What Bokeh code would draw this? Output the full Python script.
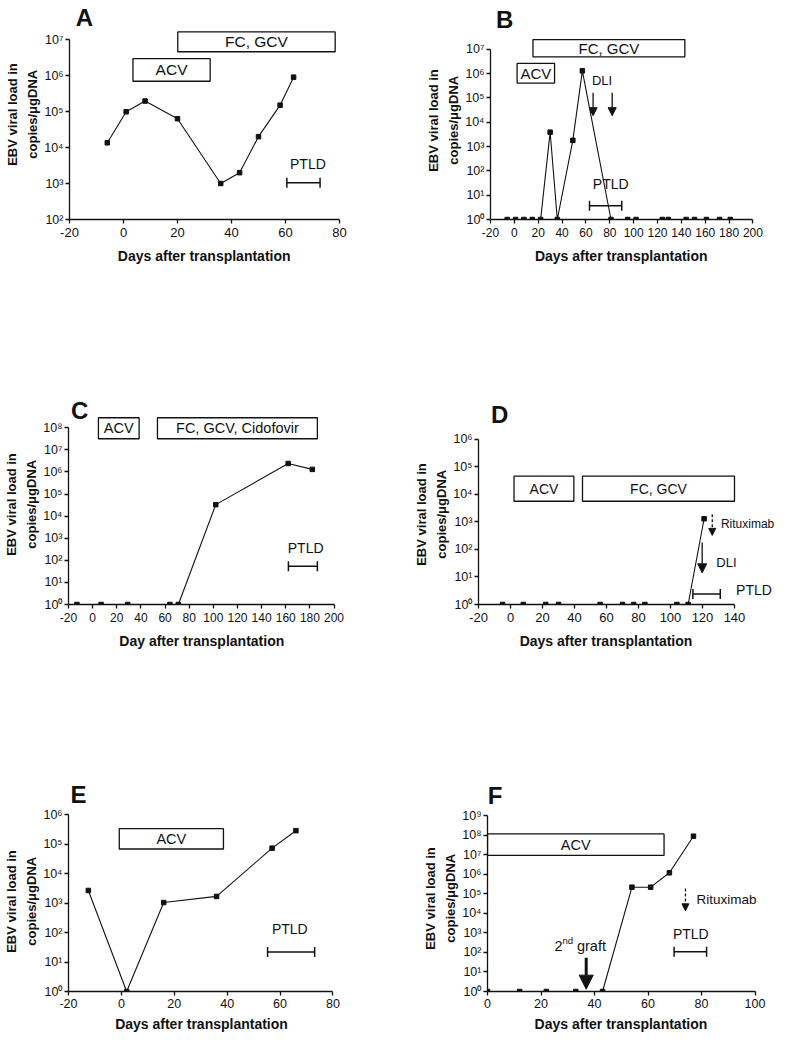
import math
from bokeh.plotting import figure
from bokeh.models import Range1d, FixedTicker, CustomJSTickFormatter, Arrow, NormalHead, Title
from bokeh.layouts import row, column
from bokeh.embed import file_html
from bokeh.resources import INLINE
from bokeh.core.properties import value

FONT = "Liberation Sans"
INK = "#111111"

# ---------------- data ----------------
A_days = [-6, 1, 8, 20, 36, 43, 50, 58, 63]
A_load = [1.35e4, 9.8e4, 1.95e5, 6.3e4, 1.0e3, 2.0e3, 2.0e4, 1.5e5, 9.0e5]
B_days = [-6, 1, 8, 15, 22, 30, 36, 49, 57, 81, 95, 102, 124, 129, 144, 151, 161, 172, 181]
B_load = [1, 1, 1, 1, 1, 3.9e3, 1, 1.8e3, 1.3e6, 1, 1, 1, 1, 1, 1, 1, 1, 1, 1]
C_days = [-13, 7, 29, 64, 71, 102, 162, 182]
C_load = [1, 1, 1, 1, 1, 3.3e4, 2.4e6, 1.3e6]
D_days = [-5, 8, 22, 30, 56, 70, 77, 84, 104, 111, 121]
D_load = [1, 1, 1, 1, 1, 1, 1, 1, 1, 1, 1.3e3]
E_days = [-12.5, 2, 16, 36, 57, 66]
E_load = [2.7e3, 1, 1.05e3, 1.7e3, 7.4e4, 2.9e5]
F_days = [0, 12, 22, 33, 43, 54, 61, 68, 77]
F_load = [1, 1, 1, 1, 1, 2.2e5, 2.2e5, 1.2e6, 9.0e7]

# therapy periods
A_ther = ["ACV", "FC, GCV"];               A_ther_start = [3.5, 20.1];  A_ther_end = [32.1, 78.4]
B_ther = ["ACV", "FC, GCV"];               B_ther_start = [2.3, 15.6];  B_ther_end = [33.7, 142.9]
C_ther = ["ACV", "FC, GCV, Cidofovir"];    C_ther_start = [4.8, 53.7];  C_ther_end = [38.5, 186.2]
D_ther = ["ACV", "FC, GCV"];               D_ther_start = [2.2, 45.0];  D_ther_end = [39.6, 140.0]
E_ther = ["ACV"];                          E_ther_start = [-0.8];       E_ther_end = [38.6]
F_ther = ["ACV"];                          F_ther_start = [0.0];        F_ther_end = [66.0]

# PTLD periods
A_ptld = [60.5, 72.8]
B_ptld = [63.0, 90.0]
C_ptld = [162.2, 186.2]
D_ptld = [114.0, 131.1]
E_ptld = [55.3, 73.1]
F_ptld = [69.75, 81.9]

# interventions (day of arrow)
B_dli_days = [66, 82]
D_dli_day = [119.8]
D_rtx_day = [126.1]
F_graft_day = [36.9]
F_rtx_day = [74.0]

# tick values
A_xticks = [-20, 0, 20, 40, 60, 80];  A_decades = [2, 3, 4, 5, 6, 7]
B_xticks = list(range(-20, 201, 20)); B_decades = list(range(0, 8))
C_xticks = list(range(-20, 201, 20)); C_decades = list(range(0, 9))
D_xticks = list(range(-20, 141, 20)); D_decades = list(range(0, 7))
E_xticks = [-20, 0, 20, 40, 60, 80];  E_decades = list(range(0, 7))
F_xticks = [0, 20, 40, 60, 80, 100];  F_decades = list(range(0, 10))

YLABEL1 = "EBV viral load in"
YLABEL2 = "copies/\u03bcgDNA"

SUP = """
const sup = {'0':'\u2070','1':'\u00b9','2':'\u00b2','3':'\u00b3','4':'\u2074','5':'\u2075','6':'\u2076','7':'\u2077','8':'\u2078','9':'\u2079','-':'\u207b'};
const e = Math.round(Math.log10(tick));
return '10' + String(e).split('').map(c => sup[c]).join('');
"""
PLAIN = "return String(tick);"

# approximate bold sans advance widths (em) used to centre rotated / offset labels
BOLD_EM = {"D": .722, "a": .556, "y": .556, "s": .556, " ": .278, "f": .333, "t": .333,
           "e": .556, "r": .389, "n": .611, "p": .611, "l": .278, "i": .278, "o": .611}


def text_w(txt, size):
    return sum(BOLD_EM.get(c, .6) for c in txt) * size


def make_panel(cell, cal, xticks, decades, title, title_px, xlabel, ylab_center,
               xfont="12.5px", stand=(4, 12)):
    cx, cy, cw, ch = cell
    ax_px, x0, kx, ay_px, l0, ky = cal
    fl = int(round(ax_px)) - cx
    xs = x0
    xe = xs + (cw - fl) / kx
    fb = int(round(ay_px))
    fh = fb - cy
    ls = l0
    le = ls + fh / ky
    p = figure(width=cw, height=ch, x_range=Range1d(xs, xe),
               y_range=Range1d(10 ** ls, 10 ** le), y_axis_type="log",
               output_backend="svg", toolbar_location=None,
               min_border_left=fl, min_border_right=0, min_border_top=0,
               min_border_bottom=cy + ch - fb)
    p.outline_line_color = None
    p.xgrid.visible = False
    p.ygrid.visible = False
    p.background_fill_color = "white"
    p.border_fill_color = "white"

    xa = p.xaxis[0]
    ya = p.yaxis[0]
    xa.ticker = FixedTicker(ticks=xticks)
    xa.bounds = (xticks[0], xticks[-1])
    xa.formatter = CustomJSTickFormatter(code=PLAIN)
    ya.ticker = FixedTicker(ticks=[10 ** d for d in decades])
    ya.bounds = (10 ** decades[0], 10 ** decades[-1])
    ya.formatter = CustomJSTickFormatter(code=SUP)
    for ax in (xa, ya):
        ax.axis_line_width = 1.3
        ax.axis_line_color = INK
        ax.major_tick_line_width = 1.3
        ax.major_tick_line_color = INK
        ax.major_tick_in = 0
        ax.major_tick_out = 4
        ax.minor_tick_line_color = None
        ax.major_label_text_font = FONT
        ax.major_label_text_color = INK
    xa.major_label_standoff = stand[0]
    ya.major_label_standoff = 2
    xa.major_label_text_font_size = xfont
    ya.major_label_text_font_size = "12.5px"

    # x label centred under the drawn axis line (not under the whole frame)
    axis_mid = ax_px + (xticks[-1] - xticks[0]) * kx / 2
    p.add_layout(Title(text=xlabel, align="left",
                       offset=axis_mid - (cx + fl) - text_w(xlabel, 14) / 2,
                       text_font=FONT, text_font_size="14px", text_font_style="bold",
                       text_color=INK, standoff=stand[1]), "below")

    # two-line y label, centred where the reference has it
    for txt, w in ((YLABEL2, 88.4), (YLABEL1, 102.6)):
        p.add_layout(Title(text=txt, align="left", offset=fb - (ylab_center + w / 2),
                           text_font=FONT, text_font_size="13px", text_font_style="bold",
                           text_color=INK, standoff=3), "left")

    def dx(px):
        return x0 + (px - ax_px) / kx

    def dy(py):
        return 10 ** (l0 + (ay_px - py) / ky)

    p.text(x=[dx(title_px[0])], y=[dy(title_px[1])], text=[title],
           text_font=value(FONT), text_font_size="24px", text_font_style="bold",
           text_align="left", text_baseline="alphabetic", text_color=INK)
    return p


def add_series(p, days, load):
    p.line(days, load, line_color=INK, line_width=1.1)
    p.scatter(days, load, marker="square", size=4.5, color=INK)


def add_boxes(p, labels, starts, ends, ylog, font):
    lo, hi = ylog
    p.quad(left=starts, right=ends, bottom=[10 ** lo] * len(starts), top=[10 ** hi] * len(starts),
           fill_color="white", line_color=INK, line_width=1.3)
    p.text(x=[(s + e) / 2 for s, e in zip(starts, ends)], y=[10 ** ((lo + hi) / 2)] * len(starts),
           text=labels, text_font=value(FONT), text_font_size=font, text_align="center",
           text_baseline="middle", text_color=INK)


def add_ptld(p, span, bar_log, tx, tlog, align="center"):
    y = 10 ** bar_log
    p.segment(x0=[span[0]], y0=[y], x1=[span[1]], y1=[y], line_color=INK, line_width=1.5)
    p.scatter(x=span, y=[y, y], marker="dash", angle=math.pi / 2, size=10,
              line_color=INK, line_width=1.5)
    p.text(x=[tx], y=[10 ** tlog], text=["PTLD"], text_font=value(FONT), text_font_size="14px",
           text_align=align, text_baseline="middle", text_color=INK)


def add_arrow(p, x, log_from, log_to, dashed=False, lw=1.3, head=8):
    p.add_layout(Arrow(end=NormalHead(size=head, fill_color=INK, line_color=INK, line_width=1),
                       x_start=x, y_start=10 ** log_from, x_end=x, y_end=10 ** log_to,
                       line_color=INK, line_width=lw, line_dash="3 2" if dashed else "solid"))


def add_note(p, x, log_y, txt, size, align="left"):
    p.text(x=[x], y=[10 ** log_y], text=[txt], text_font=value(FONT), text_font_size=size,
           text_align=align, text_baseline="middle", text_color=INK)


# ---------------- panels ----------------
pA = make_panel((8, 8, 402, 387), (76.7, -20, 2.7, 226.7, 2, 36.0), A_xticks, A_decades,
                "A", (83, 25), "Days after transplantation", 122, "13px")
add_boxes(pA, A_ther[:1], A_ther_start[:1], A_ther_end[:1], (5.84, 6.47), "15.5px")
add_boxes(pA, A_ther[1:], A_ther_start[1:], A_ther_end[1:], (6.66, 7.21), "15.5px")
add_ptld(pA, A_ptld, 3.02, 68.3, 3.53)
add_series(pA, A_days, A_load)

pB = make_panel((410, 8, 374, 387), (497.5, -20, 1.193, 230.8, 0, 24.76), B_xticks, B_decades,
                "B", (503, 27), "Days after transplantation", 132, "12px")
add_boxes(pB, B_ther[:1], B_ther_start[:1], B_ther_end[:1], (5.61, 6.42), "15px")
add_boxes(pB, B_ther[1:], B_ther_start[1:], B_ther_end[1:], (6.69, 7.40), "15px")
add_ptld(pB, B_ptld, 0.57, 80.8, 1.47)
add_series(pB, B_days, B_load)
for d in B_dli_days:
    add_arrow(pB, d, 5.21, 4.27)
add_note(pB, 65, 5.73, "DLI", "13px")

pC = make_panel((8, 395, 402, 380), (76.5, -20, 1.207, 612.5, 0, 22.1), C_xticks, C_decades,
                "C", (79, 418), "Day after transplantation", 512, "12px")
add_boxes(pC, C_ther, C_ther_start, C_ther_end, (7.50, 8.45), "14.5px")
add_ptld(pC, C_ptld, 1.73, 176.5, 2.56)
add_series(pC, C_days, C_load)

pD = make_panel((410, 395, 374, 380), (485.5, -20, 1.6, 617.3, 0, 28.17), D_xticks, D_decades,
                "D", (498, 423), "Days after transplantation", 527, "13px")
add_boxes(pD, D_ther, D_ther_start, D_ther_end, (3.75, 4.66), "14px")
add_ptld(pD, D_ptld, 0.38, 141, 0.52, align="left")
add_series(pD, D_days, D_load)
add_arrow(pD, D_rtx_day[0], 3.28, 2.51, dashed=True, head=7)
add_arrow(pD, D_dli_day[0], 2.25, 1.15, head=9)
add_note(pD, 131.5, 2.92, "Rituximab", "12px")
add_note(pD, 128.6, 1.54, "DLI", "13px")

pE = make_panel((8, 775, 402, 267), (74, -20, 2.66, 998.8, 0, 29.44), E_xticks, E_decades,
                "E", (76, 802), "Days after transplantation", 909, "12.5px", stand=(3, 6))
add_boxes(pE, E_ther, E_ther_start, E_ther_end, (4.84, 5.53), "14.5px")
add_ptld(pE, E_ptld, 1.34, 63.7, 2.13)
add_series(pE, E_days, E_load)

pF = make_panel((410, 775, 374, 267), (494.7, 0, 2.675, 1000.6, 0, 19.7), F_xticks, F_decades,
                "F", (495, 803), "Days after transplantation", 908, "12.5px", stand=(3, 6))
add_boxes(pF, F_ther, F_ther_start, F_ther_end, (6.97, 8.07), "14.5px")
add_ptld(pF, F_ptld, 2.03, 76, 2.94)
add_series(pF, F_days, F_load)
add_arrow(pF, F_graft_day[0], 1.73, 0.12, lw=3, head=14)
add_arrow(pF, F_rtx_day[0], 5.28, 4.13, dashed=True, head=7)
add_note(pF, 78.1, 4.69, "Rituximab", "13.5px")
# "2nd graft" with superscript
gx, gl = 35.0, 2.32
pF.text(x=[gx], y=[10 ** gl], text=["2"], x_offset=-26.7, text_font=value(FONT),
        text_font_size="14.5px", text_align="left", text_baseline="middle", text_color=INK)
pF.text(x=[gx], y=[10 ** gl], text=["nd"], x_offset=-18.6, y_offset=-6, text_font=value(FONT),
        text_font_size="9.5px", text_align="left", text_baseline="middle", text_color=INK)
pF.text(x=[gx], y=[10 ** gl], text=["graft"], x_offset=-4.2, text_font=value(FONT),
        text_font_size="14.5px", text_align="left", text_baseline="middle", text_color=INK)

layout = column(row(pA, pB), row(pC, pD), row(pE, pF))
open("out.html", "w").write(file_html(layout, INLINE))
